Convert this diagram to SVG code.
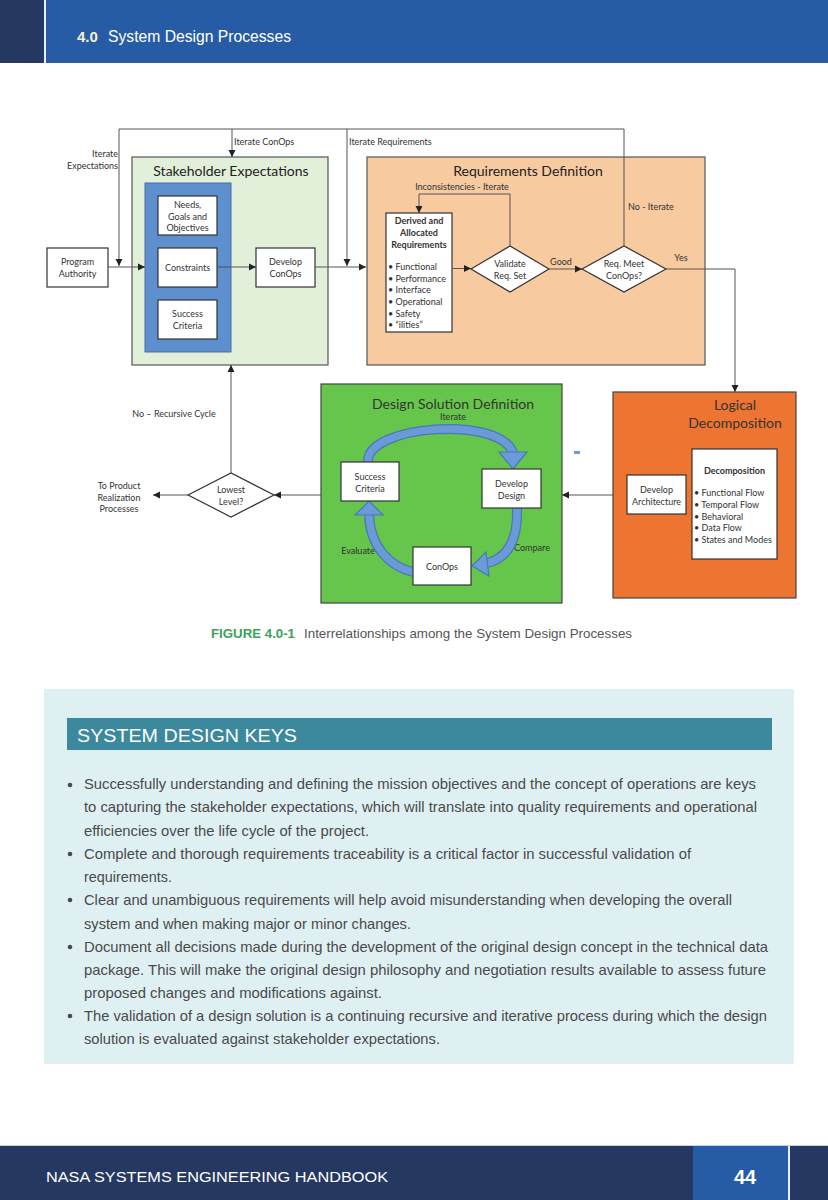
<svg xmlns="http://www.w3.org/2000/svg" width="828" height="1200" viewBox="0 0 828 1200">
<defs>
<marker id="ah" markerWidth="8" markerHeight="8" refX="7" refY="4" orient="auto" markerUnits="userSpaceOnUse">
<path d="M0,0.5 L7,4 L0,7.5 Z" fill="#222"/>
</marker>
</defs>
<style>
.d{font-family:Lato,"Open Sans","Noto Sans",sans-serif;fill:#333;}
.s{font-size:9px;}
.m{font-size:9.5px;}
.t{font-size:14px;fill:#222;}
.c{text-anchor:middle;}
.b{font-weight:bold;}
.box{fill:#fff;stroke:#333;stroke-width:1.2;}
.con{fill:none;stroke:#555;stroke-width:1;}
.arr{marker-end:url(#ah);}
.p{font-family:"Liberation Sans",Arial,sans-serif;font-size:15px;fill:#4a4a4a;}
.band{fill:none;stroke:#4a78b8;stroke-width:10;}
.bandin{fill:none;stroke:#6b9ad8;stroke-width:7.5;}
.head{fill:#6b9ad8;stroke:#4a78b8;stroke-width:1.2;}
</style>

<!-- header -->
<g id="header">
<rect x="0" y="0" width="828" height="63" fill="#265ca6"/>
<rect x="0" y="0" width="44" height="63" fill="#243861"/>
<rect x="44" y="0" width="2" height="63" fill="#e8eef6"/>
<text x="77" y="42" font-family="Liberation Sans,Arial,sans-serif" font-size="15" font-weight="bold" fill="#f6efd2">4.0</text>
<text x="108" y="42" font-family="Liberation Sans,Arial,sans-serif" font-size="16" fill="#ffffff" textLength="183" lengthAdjust="spacingAndGlyphs">System Design Processes</text>
</g>

<!-- Stakeholder Expectations -->
<g id="stakeholder">
<rect x="132" y="157" width="196" height="208" fill="#e2efd9" stroke="#555" stroke-width="1.2"/>
<text class="d t c" x="231" y="176">Stakeholder Expectations</text>
<rect x="145" y="183" width="86" height="169" fill="#5e8fce" stroke="#4a6fa6" stroke-width="1"/>
</g>
<g id="needs">
<rect class="box" x="158" y="196" width="59" height="39"/>
<text class="d s c" x="187.5" y="208">Needs,</text>
<text class="d s c" x="187.5" y="219.5">Goals and</text>
<text class="d s c" x="187.5" y="231">Objectives</text>
</g>
<g id="constraints">
<rect class="box" x="158" y="248" width="59" height="39"/>
<text class="d s c" x="187.5" y="271">Constraints</text>
</g>
<g id="success1">
<rect class="box" x="158" y="300" width="59" height="39"/>
<text class="d s c" x="187.5" y="317">Success</text>
<text class="d s c" x="187.5" y="329">Criteria</text>
</g>
<g id="developconops">
<rect class="box" x="256" y="248" width="59" height="39"/>
<text class="d s c" x="285.5" y="265">Develop</text>
<text class="d s c" x="285.5" y="277">ConOps</text>
</g>
<g id="program">
<rect class="box" x="47" y="248" width="61" height="39"/>
<text class="d s c" x="77.5" y="265">Program</text>
<text class="d s c" x="77.5" y="277">Authority</text>
</g>

<!-- Requirements Definition -->
<g id="requirements">
<rect x="367" y="157" width="338" height="208" fill="#f7caa0" stroke="#555" stroke-width="1.2"/>
<text class="d t c" x="528" y="176">Requirements Definition</text>
</g>
<g id="derived">
<rect class="box" x="386" y="213" width="66" height="119"/>
<text class="d s c b" x="419" y="224">Derived and</text>
<text class="d s c b" x="419" y="236">Allocated</text>
<text class="d s c b" x="419" y="248">Requirements</text>
<text class="d s" x="388" y="270">• Functional</text>
<text class="d s" x="388" y="281.5">• Performance</text>
<text class="d s" x="388" y="293">• Interface</text>
<text class="d s" x="388" y="305">• Operational</text>
<text class="d s" x="388" y="316.5">• Safety</text>
<text class="d s" x="388" y="328">• “ilities”</text>
</g>
<g id="validate">
<polygon points="471,269 510,246 549,269 510,292" fill="#fff" stroke="#333" stroke-width="1.2"/>
<text class="d s c" x="510" y="267">Validate</text>
<text class="d s c" x="510" y="279">Req. Set</text>
</g>
<g id="reqmeet">
<polygon points="582,269 624,246 666,269 624,292" fill="#fff" stroke="#333" stroke-width="1.2"/>
<text class="d s c" x="624" y="267">Req. Meet</text>
<text class="d s c" x="624" y="279">ConOps?</text>
</g>

<!-- Logical Decomposition -->
<g id="logical">
<rect x="613" y="392" width="183" height="206" fill="#ee7431" stroke="#444" stroke-width="1.2"/>
<text class="d c" x="735" y="410" font-size="14" fill="#3b1a08">Logical</text>
<text class="d c" x="735" y="428" font-size="14" fill="#3b1a08">Decomposition</text>
</g>
<g id="decomposition">
<rect class="box" x="692" y="449" width="85" height="110"/>
<text class="d s c b" x="734.5" y="474">Decomposition</text>
<text class="d s" x="694" y="496">• Functional Flow</text>
<text class="d s" x="694" y="508">• Temporal Flow</text>
<text class="d s" x="694" y="519.5">• Behavioral</text>
<text class="d s" x="694" y="531">• Data Flow</text>
<text class="d s" x="694" y="543">• States and Modes</text>
</g>
<g id="architecture">
<rect class="box" x="627" y="475" width="59" height="39"/>
<text class="d s c" x="656.5" y="493">Develop</text>
<text class="d s c" x="656.5" y="505">Architecture</text>
</g>

<!-- Design Solution Definition -->
<g id="design">
<rect x="321" y="384" width="241" height="219" fill="#66c64b" stroke="#444" stroke-width="1.2"/>
<text class="d c" x="453" y="409" font-size="14" fill="#0e3a10">Design Solution Definition</text>
<text class="d s c" x="453" y="419.5" fill="#1c3b1c">Iterate</text>
<text class="d s c" x="358" y="554" fill="#1c3b1c">Evaluate</text>
<text class="d s c" x="532" y="551" fill="#1c3b1c">Compare</text>
</g>
<g id="cycle">
<path class="band" d="M368,462 C366,425 500,415 513,453"/>
<path class="bandin" d="M368,462 C366,425 500,415 513,453"/>
<polygon class="head" points="499,452 527,452 513,469"/>
<path class="band" d="M517,508 C518,540 508,558 487,563"/>
<path class="bandin" d="M517,508 C518,540 508,558 487,563"/>
<polygon class="head" points="486,552 489,576 472,566"/>
<path class="band" d="M413,572 C388,566 370,545 369,515"/>
<path class="bandin" d="M413,572 C388,566 370,545 369,515"/>
<polygon class="head" points="355,515 383,515 369,501"/>
</g>
<g id="success2">
<rect class="box" x="341" y="462" width="58" height="39"/>
<text class="d s c" x="370" y="480">Success</text>
<text class="d s c" x="370" y="491.5">Criteria</text>
</g>
<g id="developdesign">
<rect class="box" x="482" y="469" width="59" height="39"/>
<text class="d s c" x="511.5" y="487">Develop</text>
<text class="d s c" x="511.5" y="499">Design</text>
</g>
<g id="conops">
<rect class="box" x="413" y="547" width="58" height="38"/>
<text class="d s c" x="442" y="570">ConOps</text>
</g>
<rect x="574" y="451" width="6" height="3" fill="#6b9ad8"/>

<!-- Lowest level -->
<g id="lowest">
<polygon points="188,495 231,473 274,495 231,517" fill="#fff" stroke="#333" stroke-width="1.2"/>
<text class="d s c" x="231" y="493">Lowest</text>
<text class="d s c" x="231" y="505">Level?</text>
</g>
<g id="toproduct">
<text class="d s c" x="119" y="489">To Product</text>
<text class="d s c" x="119" y="500.5">Realization</text>
<text class="d s c" x="119" y="512">Processes</text>
</g>

<!-- connectors -->
<g id="connectors">
<path class="con arr" d="M624,246 V129 H119 V266"/>
<path class="con arr" d="M232,129 V157"/>
<path class="con arr" d="M347,129 V266"/>
<path class="con arr" d="M108,267 H145"/>
<path class="con arr" d="M217,267 H256"/>
<path class="con arr" d="M315,267 H366"/>
<path class="con arr" d="M452,268.5 H471"/>
<path class="con arr" d="M549,269 H582"/>
<path class="con arr" d="M510,246 V194 H419 V213"/>
<path class="con arr" d="M666,269 H735 V392"/>
<path class="con arr" d="M613,495 H562"/>
<path class="con arr" d="M321,495 H274"/>
<path class="con arr" d="M231,473 V365"/>
<path class="con arr" d="M188,495 H153"/>
</g>
<g id="connector-labels">
<text class="d s" x="118" y="157" text-anchor="end">Iterate</text>
<text class="d s" x="118" y="169" text-anchor="end">Expectations</text>
<text class="d s" x="234" y="145">Iterate ConOps</text>
<text class="d s" x="349" y="145">Iterate Requirements</text>
<text class="d s c" x="462" y="190">Inconsistencies - Iterate</text>
<text class="d s" x="628" y="210">No - Iterate</text>
<text class="d s c" x="561" y="265">Good</text>
<text class="d s c" x="681" y="261">Yes</text>
<text class="d s c" x="174" y="417">No – Recursive Cycle</text>
</g>

<!-- caption -->
<g id="caption">
<text x="211" y="638" font-family="Liberation Sans,Arial,sans-serif" font-size="13" font-weight="bold" fill="#3ba35b" textLength="84" lengthAdjust="spacingAndGlyphs">FIGURE 4.0-1</text>
<text x="304" y="638" font-family="Liberation Sans,Arial,sans-serif" font-size="13" fill="#555" textLength="328" lengthAdjust="spacingAndGlyphs">Interrelationships among the System Design Processes</text>
</g>

<!-- keys -->
<g id="keys">
<rect x="44" y="689" width="750" height="375" fill="#dff0f3"/>
<rect x="67" y="718" width="705" height="32" fill="#3c889c"/>
<text x="77" y="742" font-family="Liberation Sans,Arial,sans-serif" font-size="18" fill="#fff" textLength="220" lengthAdjust="spacingAndGlyphs">SYSTEM DESIGN KEYS</text>
<circle cx="70" cy="785" r="2.3" fill="#4a4a4a"/>
<circle cx="70" cy="854" r="2.3" fill="#4a4a4a"/>
<circle cx="70" cy="900" r="2.3" fill="#4a4a4a"/>
<circle cx="70" cy="947" r="2.3" fill="#4a4a4a"/>
<circle cx="70" cy="1016" r="2.3" fill="#4a4a4a"/>
<text class="p" x="84" y="789" textLength="672" lengthAdjust="spacingAndGlyphs">Successfully understanding and defining the mission objectives and the concept of operations are keys</text>
<text class="p" x="84" y="812" textLength="673" lengthAdjust="spacingAndGlyphs">to capturing the stakeholder expectations, which will translate into quality requirements and operational</text>
<text class="p" x="84" y="836" textLength="285" lengthAdjust="spacingAndGlyphs">efficiencies over the life cycle of the project.</text>
<text class="p" x="84" y="859" textLength="607" lengthAdjust="spacingAndGlyphs">Complete and thorough requirements traceability is a critical factor in successful validation of</text>
<text class="p" x="84" y="882" textLength="88" lengthAdjust="spacingAndGlyphs">requirements.</text>
<text class="p" x="84" y="905" textLength="648" lengthAdjust="spacingAndGlyphs">Clear and unambiguous requirements will help avoid misunderstanding when developing the overall</text>
<text class="p" x="84" y="929" textLength="327" lengthAdjust="spacingAndGlyphs">system and when making major or minor changes.</text>
<text class="p" x="84" y="952" textLength="684" lengthAdjust="spacingAndGlyphs">Document all decisions made during the development of the original design concept in the technical data</text>
<text class="p" x="84" y="975" textLength="682" lengthAdjust="spacingAndGlyphs">package. This will make the original design philosophy and negotiation results available to assess future</text>
<text class="p" x="84" y="998" textLength="298" lengthAdjust="spacingAndGlyphs">proposed changes and modifications against.</text>
<text class="p" x="84" y="1021" textLength="683" lengthAdjust="spacingAndGlyphs">The validation of a design solution is a continuing recursive and iterative process during which the design</text>
<text class="p" x="84" y="1044" textLength="356" lengthAdjust="spacingAndGlyphs">solution is evaluated against stakeholder expectations.</text>
</g>

<!-- footer -->
<g id="footer">
<rect x="0" y="1145" width="828" height="55" fill="#243861"/>
<rect x="0" y="1145" width="828" height="1" fill="#c9d2e0"/>
<rect x="693" y="1146" width="95" height="54" fill="#265ca6"/>
<rect x="788" y="1146" width="2" height="54" fill="#e8eef6"/>
<text x="46" y="1182" font-family="Liberation Sans,Arial,sans-serif" font-size="15" fill="#fff" textLength="342" lengthAdjust="spacingAndGlyphs">NASA SYSTEMS ENGINEERING HANDBOOK</text>
<text x="745" y="1184" font-family="Liberation Sans,Arial,sans-serif" font-size="20" font-weight="bold" fill="#fff" text-anchor="middle">44</text>
</g>
</svg>
